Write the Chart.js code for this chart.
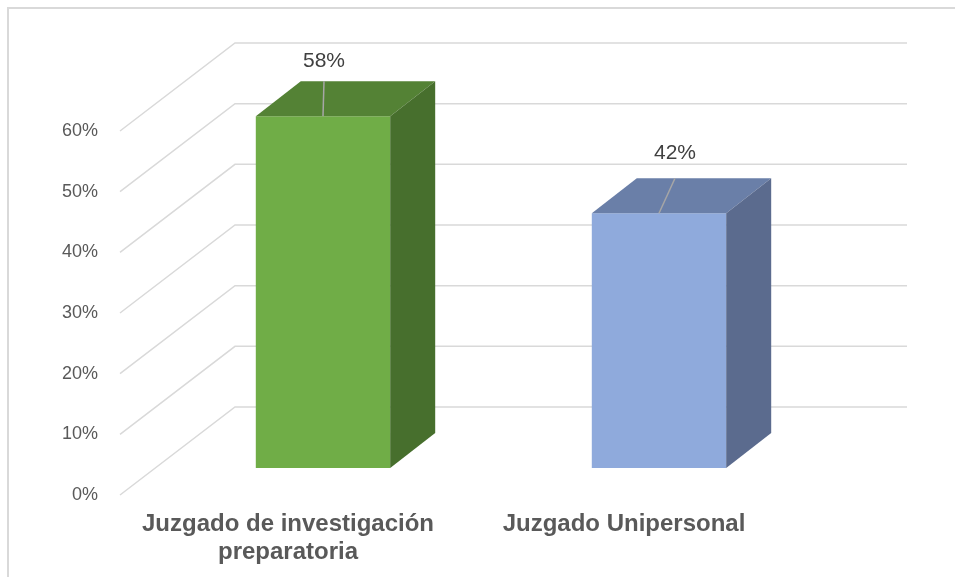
<!DOCTYPE html>
<html>
<head>
<meta charset="utf-8">
<script src="https://cdn.jsdelivr.net/npm/chart.js@4"></script>
<style>
  body { margin: 0; background: #fff; }
</style>
</head>
<body>
<canvas id="chart" width="955" height="577"></canvas>
<script>
// data
const categories = [['Juzgado de investigación', 'preparatoria'], 'Juzgado Unipersonal'];
const values = [0.58, 0.42];
const tickValues = [0, 0.1, 0.2, 0.3, 0.4, 0.5, 0.6];

// colours per bar: front, top, side
const frontColors = ['#70AD47', '#8FAADC'];
const topColors = ['#548235', '#6A7FA8'];
const sideColors = ['#476F2D', '#5B6B8E'];

// 3D look
const depthDx = 45, depthDy = -35;         // bar depth
const wallFront = [-35, 27];                // floor / label plane, from the bar plane
const wallBack = [80, -61];                 // back wall, from the bar plane
const labelShift = [[1, -55], [16, -60]];   // data labels, from the bar top

const pct = v => Math.round(v * 100) + '%';

const threeD = {
  id: 'threeD',
  beforeDraw(chart) {
    const ctx = chart.ctx;
    ctx.save();
    ctx.fillStyle = '#D9D9D9';
    ctx.fillRect(7, 7, chart.width - 7, 2);
    ctx.fillRect(7, 7, 2, chart.height - 7);
    ctx.restore();
  },
  beforeDatasetsDraw(chart) {
    const ctx = chart.ctx;
    const y = chart.scales.y;
    const { left, right } = chart.chartArea;
    ctx.save();
    ctx.strokeStyle = '#D9D9D9';
    ctx.lineWidth = 1.5;
    tickValues.forEach(v => {
      const py = y.getPixelForValue(v);
      ctx.beginPath();
      ctx.moveTo(left + wallFront[0], py + wallFront[1]);
      ctx.lineTo(left + wallBack[0], py + wallBack[1]);
      ctx.lineTo(right + wallBack[0], py + wallBack[1]);
      ctx.stroke();
    });
    ctx.restore();
  },
  afterDatasetsDraw(chart) {
    const ctx = chart.ctx;
    const bars = chart.getDatasetMeta(0).data;
    ctx.save();
    bars.forEach((bar, i) => {
      const { x, y, base, width } = bar.getProps(['x', 'y', 'base', 'width'], true);
      const l = x - width / 2, r = x + width / 2;
      // top face
      ctx.fillStyle = topColors[i];
      ctx.beginPath();
      ctx.moveTo(l, y);
      ctx.lineTo(l + depthDx, y + depthDy);
      ctx.lineTo(r + depthDx, y + depthDy);
      ctx.lineTo(r, y);
      ctx.closePath();
      ctx.fill();
      // side face
      ctx.fillStyle = sideColors[i];
      ctx.beginPath();
      ctx.moveTo(r, y);
      ctx.lineTo(r + depthDx, y + depthDy);
      ctx.lineTo(r + depthDx, base + depthDy);
      ctx.lineTo(r, base);
      ctx.closePath();
      ctx.fill();

      // data label with leader line
      const lx = x + labelShift[i][0], ly = y + labelShift[i][1];
      ctx.strokeStyle = '#A6A6A6';
      ctx.lineWidth = 1.5;
      ctx.beginPath();
      ctx.moveTo(lx, y + depthDy);
      ctx.lineTo(x, y);
      ctx.stroke();
      ctx.fillStyle = '#404040';
      ctx.font = '21px "Liberation Sans", Arial, sans-serif';
      ctx.textAlign = 'center';
      ctx.textBaseline = 'middle';
      ctx.fillText(pct(values[i]), lx, ly);
    });
    ctx.restore();
  }
};

new Chart(document.getElementById('chart'), {
  type: 'bar',
  data: {
    labels: categories,
    datasets: [{
      data: values,
      backgroundColor: frontColors,
      borderWidth: 0,
      barPercentage: 0.5,
      categoryPercentage: 0.8
    }]
  },
  options: {
    responsive: false,
    animation: false,
    layout: { padding: { top: 104, right: 128, bottom: 0, left: 0 } },
    plugins: { legend: { display: false }, tooltip: { enabled: false } },
    scales: {
      y: {
        min: 0,
        max: 0.6,
        afterFit: s => { s.width = 155; },
        afterBuildTicks: s => { s.ticks = tickValues.map(v => ({ value: v })); },
        grid: { display: false, drawTicks: false },
        border: { display: false },
        ticks: {
          callback: v => pct(v),
          padding: 57,
          labelOffset: 27,
          color: '#595959',
          font: { family: '"Liberation Sans", Arial, sans-serif', size: 18 }
        }
      },
      x: {
        afterFit: s => { s.height = 109; },
        grid: { display: false, drawTicks: false },
        border: { display: false },
        ticks: {
          padding: 42,
          labelOffset: -35,
          maxRotation: 0,
          color: '#595959',
          font: { family: '"Liberation Sans", Arial, sans-serif', size: 24, weight: 'bold', lineHeight: 1.17 }
        }
      }
    }
  },
  plugins: [threeD]
});
</script>
</body>
</html>
